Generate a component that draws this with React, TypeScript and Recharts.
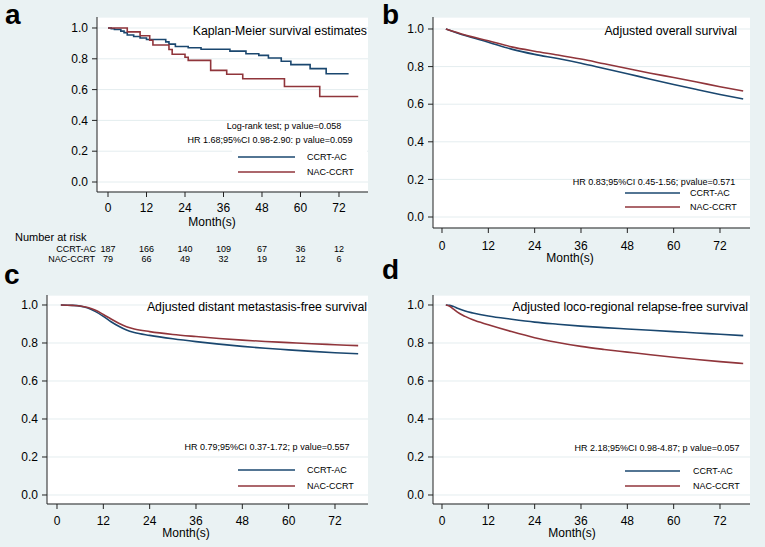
import React from "react";
import { LineChart, Line, XAxis, YAxis, CartesianGrid } from "recharts";

const monthTicks = [0, 12, 24, 36, 48, 60, 72];
const survTicks = [0, 0.2, 0.4, 0.6, 0.8, 1.0];

// a: Kaplan-Meier steps [month, survival]
const kmCcrtAc: [number, number][] = [
  [0, 1], [1, 0.995], [2, 0.99], [4, 0.98], [5, 0.97], [6, 0.955], [8, 0.945],
  [10, 0.935], [12, 0.925], [18, 0.91], [19, 0.895], [21, 0.88], [25, 0.872],
  [29, 0.862], [38, 0.85], [43, 0.833], [47, 0.822], [50, 0.805], [54, 0.784],
  [57, 0.762], [63, 0.736], [68, 0.703], [75, 0.703],
];
const kmNacCcrt: [number, number][] = [
  [0, 1], [6, 0.975], [10, 0.95], [13, 0.92], [14, 0.89], [19, 0.86], [20, 0.83],
  [24, 0.81], [25, 0.79], [32, 0.725], [37, 0.7], [42, 0.67], [55, 0.62],
  [66, 0.555], [78, 0.555],
];

// b: adjusted overall survival
const osCcrtAc: [number, number][] = [
  [1, 1], [6, 0.965], [12, 0.93], [18, 0.893], [24, 0.865], [30, 0.843], [36, 0.818],
  [42, 0.79], [48, 0.762], [54, 0.733], [60, 0.705], [66, 0.678], [72, 0.652], [78, 0.628],
];
const osNacCcrt: [number, number][] = [
  [1, 1], [6, 0.968], [12, 0.937], [18, 0.905], [24, 0.882], [30, 0.862], [36, 0.84],
  [42, 0.815], [48, 0.79], [54, 0.765], [60, 0.742], [66, 0.718], [72, 0.693], [78, 0.67],
];

// c: adjusted distant metastasis-free survival
const dmfsCcrtAc: [number, number][] = [
  [1, 1], [4, 0.998], [6, 0.994], [8, 0.984], [10, 0.965], [12, 0.94], [14, 0.912],
  [16, 0.888], [18, 0.868], [20, 0.855], [24, 0.84], [30, 0.822], [36, 0.807],
  [42, 0.794], [48, 0.782], [54, 0.772], [60, 0.764], [66, 0.756], [72, 0.749], [78, 0.743],
];
const dmfsNacCcrt: [number, number][] = [
  [1, 1], [4, 0.998], [6, 0.995], [8, 0.987], [10, 0.972], [12, 0.95], [14, 0.926],
  [16, 0.904], [18, 0.886], [20, 0.874], [24, 0.86], [30, 0.845], [36, 0.834],
  [42, 0.824], [48, 0.815], [54, 0.808], [60, 0.802], [66, 0.796], [72, 0.791], [78, 0.786],
];

// d: adjusted loco-regional relapse-free survival
const lrfsCcrtAc: [number, number][] = [
  [1, 1], [2, 0.998], [3, 0.992], [4, 0.983], [6, 0.968], [8, 0.958], [12, 0.942],
  [18, 0.925], [24, 0.91], [30, 0.899], [36, 0.889], [42, 0.881], [48, 0.874],
  [54, 0.867], [60, 0.86], [66, 0.853], [72, 0.846], [78, 0.839],
];
const lrfsNacCcrt: [number, number][] = [
  [1, 1], [2, 0.993], [3, 0.978], [4, 0.962], [6, 0.94], [8, 0.922], [12, 0.896],
  [18, 0.86], [24, 0.828], [30, 0.803], [36, 0.782], [42, 0.766], [48, 0.752],
  [54, 0.738], [60, 0.725], [66, 0.713], [72, 0.702], [78, 0.692],
];

const riskCcrtAc = [187, 166, 140, 109, 67, 36, 12];
const riskNacCcrt = [79, 66, 49, 32, 19, 12, 6];

const NAVY = "#1a476f";
const MAROON = "#90353b";
const GRID = "#e4edef";
const BG = "#eaf2f3";
const FONT = "'Liberation Sans', Arial, sans-serif";

const toPts = (rows: [number, number][]) => rows.map(([m, s]) => ({ m, s }));

type Geo = { x: number; y: number; w: number; h: number; xd: [number, number]; yd: [number, number]; tm: number };

const geoA: Geo = { x: 97, y: 17, w: 271, h: 175, xd: [-3.43, 81.04], yd: [-0.0649, 1.0714], tm: 6 };
const geoB: Geo = { x: 433, y: 17, w: 317, h: 211, xd: [-2.33, 79.77], yd: [-0.0585, 1.0638], tm: 8 };
const geoC: Geo = { x: 47, y: 295, w: 321, h: 209, xd: [-2.59, 80.55], yd: [-0.0474, 1.0526], tm: 7 };
const geoD: Geo = { x: 433, y: 295, w: 317, h: 209, xd: [-2.33, 79.77], yd: [-0.0474, 1.0526], tm: 7 };

function Panel({ g, blue, red, curve }: { g: Geo; blue: [number, number][]; red: [number, number][]; curve: "stepAfter" | "monotone" }) {
  const tick = { fontSize: 12, fill: "#000" };
  return (
    <div style={{ position: "absolute", left: g.x - 40, top: g.y }}>
      <LineChart width={g.w + 40} height={g.h + 30} margin={{ top: 0, right: 0, bottom: 0, left: 0 }}>
        <CartesianGrid horizontal vertical={false} fill="#fff" stroke={GRID} />
        <XAxis
          type="number"
          dataKey="m"
          domain={g.xd}
          ticks={monthTicks}
          interval={0}
          allowDataOverflow
          height={30}
          tick={tick}
          tickSize={5}
          tickMargin={g.tm}
          stroke="#222"
        />
        <YAxis
          type="number"
          domain={g.yd}
          ticks={survTicks}
          interval={0}
          allowDataOverflow
          width={40}
          tick={tick}
          tickSize={5}
          tickMargin={4}
          tickFormatter={(v: number) => v.toFixed(1)}
          stroke="#222"
        />
        <Line data={toPts(blue)} dataKey="s" type={curve} stroke={NAVY} strokeWidth={1.6} dot={false} activeDot={false} isAnimationActive={false} />
        <Line data={toPts(red)} dataKey="s" type={curve} stroke={MAROON} strokeWidth={1.6} dot={false} activeDot={false} isAnimationActive={false} />
      </LineChart>
    </div>
  );
}

function Txt({ x, y, size, anchor = "start", bold, children }: { x: number; y: number; size: number; anchor?: "start" | "middle" | "end"; bold?: boolean; children: React.ReactNode }) {
  const tx = anchor === "middle" ? "-50%" : anchor === "end" ? "-100%" : "0";
  return (
    <div
      style={{
        position: "absolute",
        left: x,
        top: y,
        transform: `translate(${tx}, -50%)`,
        fontSize: size,
        lineHeight: 1,
        whiteSpace: "nowrap",
        fontWeight: bold ? "bold" : "normal",
        color: "#000",
      }}
    >
      {children}
    </div>
  );
}

function LegendBox({ x, y, w, h, lx1, lx2, tx, y1, y2 }: { x: number; y: number; w: number; h: number; lx1: number; lx2: number; tx: number; y1: number; y2: number }) {
  return (
    <>
      <div style={{ position: "absolute", left: x, top: y, width: w, height: h, background: "#fff" }} />
      <svg style={{ position: "absolute", left: 0, top: 0, overflow: "visible" }} width={1} height={1}>
        <line x1={lx1} x2={lx2} y1={y1} y2={y1} stroke={NAVY} strokeWidth={1.6} />
        <line x1={lx1} x2={lx2} y1={y2} y2={y2} stroke={MAROON} strokeWidth={1.6} />
      </svg>
      <Txt x={tx} y={y1} size={9}>CCRT-AC</Txt>
      <Txt x={tx} y={y2} size={9}>NAC-CCRT</Txt>
    </>
  );
}

const xOf = (g: Geo, m: number) => g.x + ((m - g.xd[0]) / (g.xd[1] - g.xd[0])) * g.w;

export default function App() {
  return (
    <div style={{ position: "absolute", left: 0, top: 0, width: 765, height: 547, background: BG, fontFamily: FONT, overflow: "hidden" }}>
      <Panel g={geoA} blue={kmCcrtAc} red={kmNacCcrt} curve="stepAfter" />
      <Panel g={geoB} blue={osCcrtAc} red={osNacCcrt} curve="monotone" />
      <Panel g={geoC} blue={dmfsCcrtAc} red={dmfsNacCcrt} curve="monotone" />
      <Panel g={geoD} blue={lrfsCcrtAc} red={lrfsNacCcrt} curve="monotone" />

      {/* panel letters */}
      <div style={{ position: "absolute", left: 5, top: 1, fontSize: 28, fontWeight: "bold", lineHeight: 1 }}>a</div>
      <div style={{ position: "absolute", left: 382, top: 1, fontSize: 28, fontWeight: "bold", lineHeight: 1 }}>b</div>
      <div style={{ position: "absolute", left: 4, top: 261, fontSize: 28, fontWeight: "bold", lineHeight: 1 }}>c</div>
      <div style={{ position: "absolute", left: 382, top: 256, fontSize: 28, fontWeight: "bold", lineHeight: 1 }}>d</div>

      {/* titles */}
      <Txt x={367} y={31} size={12.3} anchor="end">Kaplan-Meier survival estimates</Txt>
      <Txt x={737} y={31} size={12.3} anchor="end">Adjusted overall survival</Txt>
      <Txt x={367} y={307} size={12.3} anchor="end">Adjusted distant metastasis-free survival</Txt>
      <Txt x={748} y={307} size={12.3} anchor="end">Adjusted loco-regional relapse-free survival</Txt>

      {/* legends */}
      <LegendBox x={232} y={146} w={135} h={34} lx1={238} lx2={295} tx={307} y1={157} y2={172} />
      <LegendBox x={618} y={184} w={131} h={31} lx1={625} lx2={680} tx={690} y1={193} y2={207} />
      <LegendBox x={232} y={459} w={135} h={34} lx1={238} lx2={295} tx={307} y1={470} y2={486} />
      <LegendBox x={618} y={459} w={131} h={34} lx1={625} lx2={680} tx={693} y1={471} y2={486} />

      {/* annotations */}
      <Txt x={284} y={126} size={9} anchor="middle">Log-rank test; p value=0.058</Txt>
      <Txt x={270} y={140} size={9} anchor="middle">HR 1.68;95%CI 0.98-2.90: p value=0.059</Txt>
      <Txt x={654} y={182} size={9} anchor="middle">HR 0.83;95%CI 0.45-1.56; pvalue=0.571</Txt>
      <Txt x={267} y={447} size={9} anchor="middle">HR 0.79;95%CI 0.37-1.72; p value=0.557</Txt>
      <Txt x={657} y={448} size={9} anchor="middle">HR 2.18;95%CI 0.98-4.87; p value=0.057</Txt>

      {/* axis titles */}
      <Txt x={212} y={222} size={12} anchor="middle">Month(s)</Txt>
      <Txt x={570} y={258} size={12} anchor="middle">Month(s)</Txt>
      <Txt x={186} y={533} size={12} anchor="middle">Month(s)</Txt>
      <Txt x={572} y={533} size={12} anchor="middle">Month(s)</Txt>

      {/* number at risk */}
      <Txt x={15} y={237} size={11}>Number at risk</Txt>
      <Txt x={96} y={249} size={9} anchor="end">CCRT-AC</Txt>
      <Txt x={95} y={259} size={9} anchor="end">NAC-CCRT</Txt>
      {monthTicks.map((m, i) => (
        <React.Fragment key={m}>
          <Txt x={xOf(geoA, m)} y={249} size={9} anchor="middle">{riskCcrtAc[i]}</Txt>
          <Txt x={xOf(geoA, m)} y={259} size={9} anchor="middle">{riskNacCcrt[i]}</Txt>
        </React.Fragment>
      ))}
    </div>
  );
}
